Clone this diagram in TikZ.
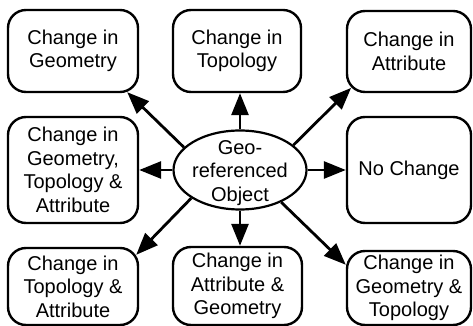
\documentclass[tikz,border=0pt]{standalone}
\usepackage{fontspec}
\setmainfont{Liberation Sans}
\usetikzlibrary{arrows.meta,shapes.geometric}
\begin{document}
\begin{tikzpicture}[x=1pt,y=1pt,
  txt/.style={align=center, font=\fontsize{20}{23.5}\selectfont},
  box/.style={txt, draw, line width=2.4pt, rounded corners=18pt, inner sep=0pt},
  obj/.style={ellipse, draw, line width=2.2pt, inner sep=0pt, minimum width=133pt, minimum height=79pt},
  conn/.style={line width=2.8pt, -{Triangle[length=22pt,width=17pt]}}]
\useasboundingbox (0,0) rectangle (473,326);
% boxes
\node[box, minimum width=130pt, minimum height=82pt] (tl) at (73,275) {Change in\\Geometry};
\node[box, minimum width=128pt, minimum height=82pt] (tm) at (237,275) {Change in\\Topology};
\node[box, minimum width=124pt, minimum height=81pt] (tr) at (409,274.5) {Change in\\Attribute};
\node[box, minimum width=130pt, minimum height=106pt] (ml) at (73,156) {Change in\\Geometry,\\Topology \&\\Attribute};
\node[box, minimum width=124pt, minimum height=106pt] (mr) at (409,156) {No Change};
\node[box, minimum width=130pt, minimum height=77pt] (bl) at (73,39.5) {Change in\\Topology \&\\Attribute};
\node[box, minimum width=129pt, minimum height=78pt] (bm) at (237.5,40) {Change in\\Attribute \&\\Geometry};
\node[box, minimum width=124pt, minimum height=74pt] (br) at (409,38) {Change in\\Geometry \&\\Topology};
% centre object
\node[obj, label={[txt, yshift=-3pt]center:Geo-\\referenced\\Object}] (e) at (240,156) {};
% connectors
\draw[conn] (e.158) -- ([shift={(-12pt,1pt)}]tl.south east);
\draw[conn] (e.north) -- (e.north |- tm.south);
\draw[conn] (e.25) -- ([shift={(5.3pt,5.3pt)}]tr.south west);
\draw[conn] (e.west) -- (e.west -| ml.east);
\draw[conn] (e.east) -- (e.east -| mr.west);
\draw[conn] (e.210) -- ([shift={(-3pt,-8pt)}]bl.north east);
\draw[conn] (e.south) -- (e.south |- bm.north);
\draw[conn] (e.-38) -- ([shift={(0pt,-15pt)}]br.north west);
\end{tikzpicture}
\end{document}
